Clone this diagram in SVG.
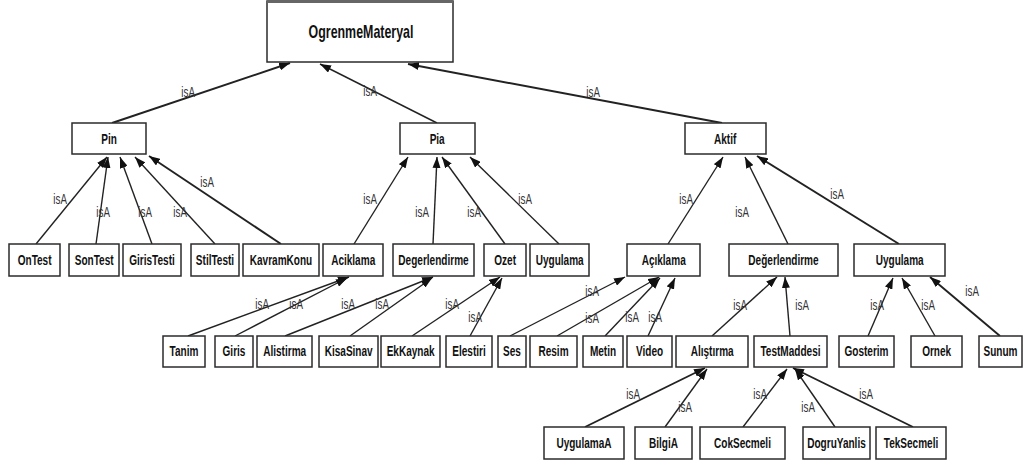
<svg xmlns="http://www.w3.org/2000/svg" width="1034" height="463" viewBox="0 0 1034 463">
  <style>
    .box { fill: #ffffff; stroke: #2b2b2b; stroke-width: 1.5; }
    .lbl, .isa { font-family: "Liberation Sans", Arial, sans-serif; text-anchor: middle; transform-box: fill-box; transform-origin: center; }
    .lbl { font-weight: bold; font-size: 15px; fill: #111111; transform: scaleX(0.67); }
    .big { font-size: 18px; transform: scaleX(0.69); }
    .isa { font-size: 14px; fill: #333333; transform: scaleX(0.7); }
    .edge { stroke: #222222; stroke-width: 1.4; fill: none; marker-end: url(#tri); }
    .thick { stroke-width: 1.9; }
  </style>
  <defs>
    <marker id="tri" markerUnits="userSpaceOnUse" markerWidth="12" markerHeight="8" refX="11" refY="4" orient="auto">
      <path d="M0,0 L11,4 L0,8 z" fill="#111111"/>
    </marker>
  </defs>
  <rect width="1034" height="463" fill="#ffffff"/>

  <!-- inheritance connectors (child -> parent) -->
  <g id="connectors">
    <line class="edge thick" x1="112" y1="123" x2="290" y2="63"/>
    <line class="edge" x1="437" y1="123" x2="320" y2="64"/>
    <line class="edge thick" x1="722" y1="123" x2="408" y2="64"/>

    <line class="edge" x1="36" y1="244" x2="107" y2="157"/>
    <line class="edge" x1="96" y1="244" x2="108" y2="157"/>
    <line class="edge" x1="152" y1="244" x2="120" y2="157"/>
    <line class="edge" x1="215" y1="244" x2="135" y2="157"/>
    <line class="edge thick" x1="281" y1="244" x2="149" y2="156"/>

    <line class="edge" x1="354" y1="244" x2="408" y2="157"/>
    <line class="edge" x1="433" y1="244" x2="437" y2="157"/>
    <line class="edge" x1="505" y1="244" x2="442" y2="157"/>
    <line class="edge" x1="559" y1="244" x2="470" y2="157"/>

    <line class="edge" x1="668" y1="244" x2="723" y2="157"/>
    <line class="edge" x1="788" y1="244" x2="745" y2="157"/>
    <line class="edge thick" x1="899" y1="244" x2="757" y2="156"/>

    <line class="edge" x1="188" y1="336" x2="349" y2="277"/>
    <line class="edge" x1="235" y1="336" x2="347" y2="278"/>
    <line class="edge" x1="285" y1="336" x2="433" y2="277"/>
    <line class="edge" x1="350" y1="336" x2="432" y2="278"/>
    <line class="edge" x1="412" y1="336" x2="500" y2="277"/>
    <line class="edge" x1="470" y1="336" x2="502" y2="278"/>

    <line class="edge" x1="510" y1="336" x2="625" y2="277"/>
    <line class="edge" x1="557" y1="336" x2="659" y2="277"/>
    <line class="edge" x1="605" y1="336" x2="660" y2="278"/>
    <line class="edge" x1="648" y1="336" x2="675" y2="278"/>
    <line class="edge" x1="712" y1="336" x2="777" y2="277"/>
    <line class="edge" x1="790" y1="336" x2="785" y2="277"/>
    <line class="edge" x1="868" y1="336" x2="893" y2="278"/>
    <line class="edge" x1="935" y1="336" x2="902" y2="278"/>
    <line class="edge thick" x1="1000" y1="336" x2="930" y2="277"/>

    <line class="edge thick" x1="585" y1="427" x2="705" y2="368"/>
    <line class="edge" x1="665" y1="427" x2="707" y2="369"/>
    <line class="edge" x1="743" y1="427" x2="787" y2="369"/>
    <line class="edge" x1="835" y1="427" x2="795" y2="369"/>
    <line class="edge thick" x1="913" y1="427" x2="793" y2="368"/>

    <!-- relationship labels -->
    <text class="isa" x="188" y="97">isA</text>
    <text class="isa" x="370" y="96">isA</text>
    <text class="isa" x="593" y="97">isA</text>

    <text class="isa" x="60" y="204">isA</text>
    <text class="isa" x="103" y="217">isA</text>
    <text class="isa" x="145" y="217">isA</text>
    <text class="isa" x="180" y="217">isA</text>
    <text class="isa" x="207" y="187">isA</text>

    <text class="isa" x="370" y="204">isA</text>
    <text class="isa" x="422" y="217">isA</text>
    <text class="isa" x="474" y="217">isA</text>
    <text class="isa" x="525" y="204">isA</text>

    <text class="isa" x="686" y="204">isA</text>
    <text class="isa" x="742" y="217">isA</text>
    <text class="isa" x="837" y="199">isA</text>

    <text class="isa" x="262" y="309">isA</text>
    <text class="isa" x="296" y="309">isA</text>
    <text class="isa" x="348" y="309">isA</text>
    <text class="isa" x="382" y="309">isA</text>
    <text class="isa" x="452" y="309">isA</text>
    <text class="isa" x="475" y="322">isA</text>

    <text class="isa" x="592" y="296">isA</text>
    <text class="isa" x="592" y="323">isA</text>
    <text class="isa" x="632" y="322">isA</text>
    <text class="isa" x="655" y="322">isA</text>
    <text class="isa" x="740" y="310">isA</text>
    <text class="isa" x="802" y="310">isA</text>
    <text class="isa" x="877" y="310">isA</text>
    <text class="isa" x="928" y="310">isA</text>
    <text class="isa" x="972" y="296">isA</text>

    <text class="isa" x="633" y="399">isA</text>
    <text class="isa" x="685" y="412">isA</text>
    <text class="isa" x="760" y="399">isA</text>
    <text class="isa" x="808" y="412">isA</text>
    <text class="isa" x="866" y="399">isA</text>
  </g>

  <!-- root -->
  <g id="OgrenmeMateryal">
    <rect class="box" x="267" y="1" width="186" height="61"/>
    <line x1="267" y1="1.5" x2="453" y2="1.5" stroke="#666666" stroke-width="3"/>
    <text class="lbl big" x="361" y="38.5">OgrenmeMateryal</text>
  </g>

  <!-- second level -->
  <g id="Pin"><rect class="box" x="72" y="123" width="74" height="31"/><text class="lbl" x="109" y="144">Pin</text></g>
  <g id="Pia"><rect class="box" x="400" y="123" width="75" height="31"/><text class="lbl" x="437" y="144">Pia</text></g>
  <g id="Aktif"><rect class="box" x="685" y="123" width="81" height="31"/><text class="lbl" x="725" y="144">Aktif</text></g>

  <!-- third level -->
  <g id="OnTest"><rect class="box" x="9" y="244" width="51" height="32"/><text class="lbl" x="34.5" y="265">OnTest</text></g>
  <g id="SonTest"><rect class="box" x="69" y="244" width="50" height="32"/><text class="lbl" x="94" y="265">SonTest</text></g>
  <g id="GirisTesti"><rect class="box" x="123" y="244" width="58" height="32"/><text class="lbl" x="152" y="265">GirisTesti</text></g>
  <g id="StilTesti"><rect class="box" x="191" y="244" width="48" height="32"/><text class="lbl" x="215" y="265">StilTesti</text></g>
  <g id="KavramKonu"><rect class="box" x="243" y="244" width="76" height="32"/><text class="lbl" x="281" y="265">KavramKonu</text></g>
  <g id="Aciklama"><rect class="box" x="323" y="244" width="60" height="32"/><text class="lbl" x="353" y="265">Aciklama</text></g>
  <g id="Degerlendirme"><rect class="box" x="393" y="244" width="81" height="32"/><text class="lbl" x="433.5" y="265">Degerlendirme</text></g>
  <g id="Ozet"><rect class="box" x="484" y="244" width="42" height="32"/><text class="lbl" x="505" y="265">Ozet</text></g>
  <g id="Uygulama"><rect class="box" x="530" y="244" width="59" height="32"/><text class="lbl" x="559.5" y="265">Uygulama</text></g>
  <g id="Aciklama-aktif"><rect class="box" x="627" y="244" width="73" height="32"/><text class="lbl" x="663.5" y="265">Açıklama</text></g>
  <g id="Degerlendirme-aktif"><rect class="box" x="729" y="244" width="109" height="32"/><text class="lbl" x="783.5" y="265">Değerlendirme</text></g>
  <g id="Uygulama-aktif"><rect class="box" x="854" y="244" width="91" height="32"/><text class="lbl" x="899.5" y="265">Uygulama</text></g>

  <!-- fourth level -->
  <g id="Tanim"><rect class="box" x="163" y="336" width="42" height="31"/><text class="lbl" x="184" y="356.5">Tanim</text></g>
  <g id="Giris"><rect class="box" x="215" y="336" width="38" height="31"/><text class="lbl" x="234" y="356.5">Giris</text></g>
  <g id="Alistirma"><rect class="box" x="257" y="336" width="55" height="31"/><text class="lbl" x="284.5" y="356.5">Alistirma</text></g>
  <g id="KisaSinav"><rect class="box" x="319" y="336" width="59" height="31"/><text class="lbl" x="348.5" y="356.5">KisaSinav</text></g>
  <g id="EkKaynak"><rect class="box" x="381" y="336" width="59" height="31"/><text class="lbl" x="410.5" y="356.5">EkKaynak</text></g>
  <g id="Elestiri"><rect class="box" x="446" y="336" width="46" height="31"/><text class="lbl" x="469" y="356.5">Elestiri</text></g>
  <g id="Ses"><rect class="box" x="498" y="336" width="28" height="31"/><text class="lbl" x="512" y="356.5">Ses</text></g>
  <g id="Resim"><rect class="box" x="530" y="336" width="47" height="31"/><text class="lbl" x="553.5" y="356.5">Resim</text></g>
  <g id="Metin"><rect class="box" x="583" y="336" width="40" height="31"/><text class="lbl" x="603" y="356.5">Metin</text></g>
  <g id="Video"><rect class="box" x="627" y="336" width="45" height="31"/><text class="lbl" x="649.5" y="356.5">Video</text></g>
  <g id="Alistirma-aktif"><rect class="box" x="676" y="336" width="72" height="31"/><text class="lbl" x="712" y="356.5">Alıştırma</text></g>
  <g id="TestMaddesi"><rect class="box" x="754" y="336" width="73" height="31"/><text class="lbl" x="790.5" y="356.5">TestMaddesi</text></g>
  <g id="Gosterim"><rect class="box" x="839" y="336" width="55" height="31"/><text class="lbl" x="866.5" y="356.5">Gosterim</text></g>
  <g id="Ornek"><rect class="box" x="911" y="336" width="51" height="31"/><text class="lbl" x="936.5" y="356.5">Ornek</text></g>
  <g id="Sunum"><rect class="box" x="979" y="336" width="43" height="31"/><text class="lbl" x="1000.5" y="356.5">Sunum</text></g>

  <!-- fifth level -->
  <g id="UygulamaA"><rect class="box" x="544" y="427" width="80" height="32"/><text class="lbl" x="584" y="448">UygulamaA</text></g>
  <g id="BilgiA"><rect class="box" x="635" y="427" width="57" height="32"/><text class="lbl" x="663.5" y="448">BilgiA</text></g>
  <g id="CokSecmeli"><rect class="box" x="700" y="427" width="85" height="32"/><text class="lbl" x="742.5" y="448">CokSecmeli</text></g>
  <g id="DogruYanlis"><rect class="box" x="803" y="427" width="67" height="32"/><text class="lbl" x="836.5" y="448">DogruYanlis</text></g>
  <g id="TekSecmeli"><rect class="box" x="876" y="427" width="70" height="32"/><text class="lbl" x="911" y="448">TekSecmeli</text></g>
</svg>
